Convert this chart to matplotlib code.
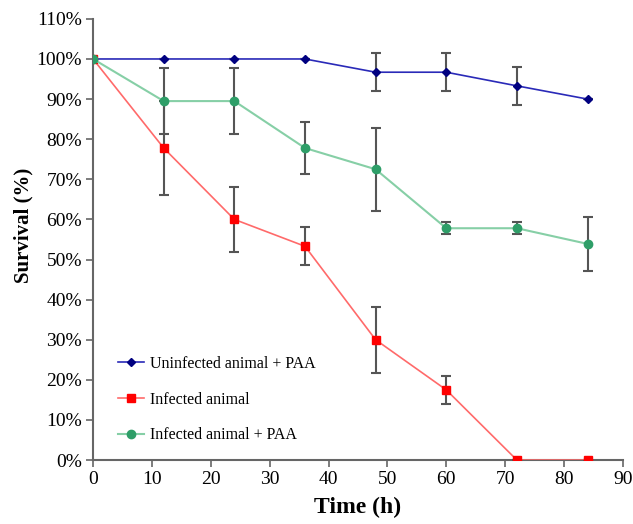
import matplotlib
matplotlib.use("Agg")
import matplotlib.pyplot as plt
from matplotlib.ticker import PercentFormatter
from matplotlib.lines import Line2D

plt.rcParams['font.family'] = ['Liberation Serif', 'DejaVu Serif']

# time points (h)
time_h = [0, 12, 24, 36, 48, 60, 72, 84]

# survival (%) and error bars
uninf_paa = [100, 100, 100, 100, 96.7, 96.7, 93.3, 90]
uninf_paa_err = [0, 0, 0, 0, 4.7, 4.7, 4.7, 0]

infected = [100, 77.8, 60, 53.3, 30, 17.5, 0, 0]
infected_err = [0, 11.6, 8.2, 4.7, 8.2, 3.5, 0, 0]

inf_paa = [100, 89.5, 89.5, 77.8, 72.5, 57.8, 57.8, 53.9]
inf_paa_err = [0, 8.2, 8.2, 6.5, 10.4, 1.5, 1.5, 6.7]

labels = ['Uninfected animal + PAA', 'Infected animal', 'Infected animal + PAA']

fig = plt.figure(figsize=(6.33, 5.24), dpi=100)
ax = fig.add_axes([0.147, 0.122, 0.837, 0.842])

err_kw = dict(ecolor='#555555', elinewidth=1.5, capsize=3.5, capthick=1.5)

styles = [
    dict(color='#2a2ab8', lw=1.2, marker='D', ms=4.5, mfc='#000080', mec='#000080'),
    dict(color='#ff6a6a', lw=1.2, marker='s', ms=6, mfc='#ff0000', mec='#ff0000'),
    dict(color='#86cfa6', lw=1.5, marker='o', ms=6, mfc='#2e9e68', mec='#2e9e68'),
]

ax.errorbar(time_h, uninf_paa, yerr=uninf_paa_err, **styles[0], **err_kw)
ax.errorbar(time_h, infected, yerr=infected_err, **styles[1], **err_kw)
ax.errorbar(time_h, inf_paa, yerr=inf_paa_err, **styles[2], **err_kw)

ax.set_xlim(0, 90)
ax.set_ylim(0, 110)
ax.set_xticks(range(0, 91, 10))
ax.set_yticks(range(0, 111, 10))
ax.yaxis.set_major_formatter(PercentFormatter(decimals=0))

for s in ['top', 'right']:
    ax.spines[s].set_visible(False)
for s in ['left', 'bottom']:
    ax.spines[s].set_color('#666666')
    ax.spines[s].set_linewidth(1.5)
    ax.spines[s].set_zorder(0)
ax.tick_params(direction='out', length=5, width=1.2, color='#666666',
               labelsize=14, pad=3)

ax.set_xlabel('Time (h)', fontsize=17, fontweight='bold', labelpad=6)
ax.set_ylabel('Survival (%)', fontsize=15, fontweight='bold', labelpad=2)
ax.yaxis.label.set_y(0.533)

# legend handles without error bars, like the original
handles = [Line2D([], [], **st) for st in styles]
ax.legend(handles, labels, loc='lower left', bbox_to_anchor=(0.02, 0.005),
          frameon=False, fontsize=11.5, labelspacing=1.25, handlelength=1.6,
          handletextpad=0.4)

fig.savefig('out.png', dpi=100)
